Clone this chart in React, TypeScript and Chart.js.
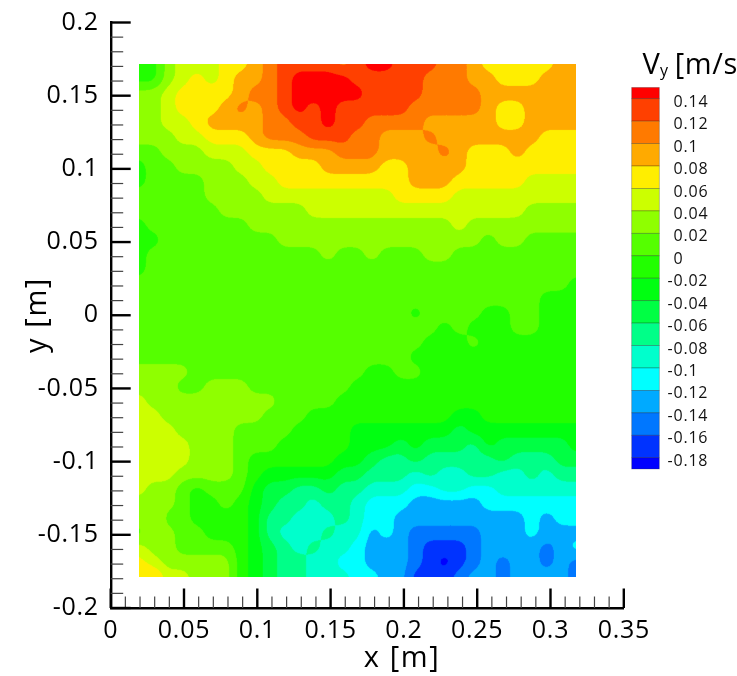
import React, { useEffect, useRef } from "react";
import { Chart, registerables } from "chart.js";

Chart.register(...registerables);

// Contour bands, top of the colour bar to the bottom
const bandColors = [
  "#ff0000", "#ff4000", "#ff7a00", "#ffaa00", "#ffee00", "#ccff00",
  "#8fff00", "#55ff00", "#22ff00", "#00ff11", "#00ff44", "#00ff88",
  "#00ffcc", "#00ffff", "#00aaff", "#0077ff", "#0033ff", "#0000ff",
];
const levelLabels = [
  "0.14", "0.12", "0.1", "0.08", "0.06", "0.04", "0.02", "0", "-0.02",
  "-0.04", "-0.06", "-0.08", "-0.1", "-0.12", "-0.14", "-0.16", "-0.18",
];

// Measurement window (m)
const xFirst = 0.0191;
const xLast = 0.3172;
const yFirst = 0.1716;
const yLast = -0.1786;

// Vy in hundredths of m/s, one row per 0.01 m from the top of the window
const row00 = [-1,-1,3,5,5,5,7,7,9,11,13,13,13,13,11,13,15,15,13,13,13,11,11,9,7,7,7,7,7,9,9];
const row01 = [-1,-1,3,5,7,5,7,9,9,11,13,15,15,15,15,13,13,13,13,13,11,11,11,9,9,7,7,7,9,9,9];
const row02 = [3,3,5,7,7,7,7,9,11,11,13,15,15,15,15,15,13,13,13,13,11,11,11,11,9,9,9,9,9,9,9];
const row03 = [3,3,5,7,7,7,9,11,9,11,13,15,13,15,13,13,13,13,13,11,11,11,11,11,9,7,7,9,9,9,9];
const row04 = [3,3,5,5,7,9,9,9,9,11,11,13,13,15,13,13,11,11,11,11,9,9,9,9,9,7,7,9,9,9,9];
const row05 = [3,3,3,5,5,7,7,7,9,11,11,11,13,13,13,11,11,9,9,9,11,9,9,9,9,9,9,9,7,7,7];
const row06 = [1,1,3,3,3,5,5,5,7,7,7,9,9,9,11,11,11,9,9,9,9,11,9,7,7,7,9,7,7,7,7];
const row07 = [-1,1,1,3,3,3,3,5,5,7,7,7,7,9,9,9,9,7,7,9,9,9,9,7,7,7,7,7,7,7,7];
const row08 = [-1,1,1,1,1,3,3,3,5,5,7,7,7,7,7,7,7,7,7,9,9,9,7,7,7,7,7,5,5,5,5];
const row09 = [1,1,1,1,1,3,3,3,3,5,5,5,5,5,5,5,5,5,7,7,7,7,5,5,5,5,5,5,5,5,5];
const row10 = [1,1,1,1,1,1,3,3,3,3,3,3,5,5,5,5,5,5,5,5,5,5,5,5,5,5,5,3,3,3,3];
const row11 = [-1,1,1,1,1,1,1,1,3,3,3,3,3,3,3,3,3,3,3,3,3,3,5,3,3,3,3,3,3,3,3];
const row12 = [-1,-1,1,1,1,1,1,1,1,1,3,3,3,3,3,3,3,3,3,3,3,3,3,3,1,3,3,1,1,1,1];
const row13 = [-1,1,1,1,1,1,1,1,1,1,1,1,1,3,1,1,3,1,1,1,3,3,1,1,1,1,1,1,1,1,1];
const row14 = [-1,1,1,1,1,1,1,1,1,1,1,1,1,1,1,1,1,1,1,1,1,1,1,1,1,1,1,1,1,1,1];
const row15 = [1,1,1,1,1,1,1,1,1,1,1,1,1,1,1,1,1,1,1,1,1,1,1,1,1,1,1,1,1,1,-1];
const row16 = [1,1,1,1,1,1,1,1,1,1,1,1,1,1,1,1,1,1,1,1,1,1,1,1,1,1,1,1,-1,-1,-1];
const row17 = [1,1,1,1,1,1,1,1,1,1,1,1,1,1,1,1,1,1,1,-1,1,1,1,1,-1,-1,1,1,-1,-1,-1];
const row18 = [1,1,1,1,1,1,1,1,1,1,1,1,1,1,1,1,1,1,1,1,1,-1,1,-1,-1,-1,1,1,-1,-1,-1];
const row19 = [1,1,1,1,1,1,1,1,1,1,1,1,1,1,1,1,1,1,1,1,-1,-1,-1,1,-1,-1,-1,-1,-1,-1,-1];
const row20 = [1,1,1,1,1,1,1,1,1,1,1,1,1,1,1,1,1,1,1,-1,-1,-1,-1,-1,-1,-1,-1,-1,-1,-1,-1];
const row21 = [3,3,3,3,1,1,1,1,1,1,1,1,1,1,1,1,-1,-1,1,1,-1,-1,-1,-1,-1,-1,-1,-1,-1,-1,-1];
const row22 = [3,3,3,1,1,3,3,3,1,1,1,1,1,1,1,-1,-1,-1,-1,-1,-1,-1,-1,-1,-1,-1,-1,-1,-1,-1,-1];
const row23 = [5,3,3,3,3,3,3,3,3,3,1,1,1,1,-1,-1,-1,-1,-1,-1,-1,-1,-1,-1,-1,-1,-1,-1,-1,-1,-1];
const row24 = [5,5,3,3,3,3,3,3,3,1,1,1,-1,-1,-1,-1,-1,-1,-1,-1,-1,-1,-3,-3,-1,-1,-1,-1,-1,-1,-1];
const row25 = [5,5,5,3,3,3,3,1,1,1,1,-1,-1,-1,-1,-3,-3,-3,-3,-3,-3,-3,-5,-3,-3,-3,-3,-3,-3,-3,-3];
const row26 = [5,5,5,5,3,3,3,1,1,1,-1,-1,-1,-1,-1,-3,-3,-3,-5,-3,-5,-5,-5,-7,-3,-5,-5,-5,-5,-5,-3];
const row27 = [5,5,5,5,3,3,3,1,-1,-1,-1,-1,-1,-1,-3,-3,-5,-7,-7,-5,-7,-7,-7,-7,-7,-5,-7,-7,-7,-5,-5];
const row28 = [5,5,5,3,3,3,3,1,-1,-3,-3,-3,-3,-3,-5,-5,-7,-7,-7,-9,-7,-9,-9,-7,-7,-9,-9,-7,-9,-7,-7];
const row29 = [5,3,3,1,-1,1,1,1,-3,-5,-5,-7,-7,-5,-7,-7,-9,-9,-9,-11,-11,-9,-9,-11,-11,-9,-9,-9,-9,-9,-9];
const row30 = [3,3,3,1,-1,-1,1,-1,-3,-5,-7,-7,-9,-7,-7,-9,-11,-11,-11,-13,-13,-13,-13,-13,-11,-11,-11,-11,-11,-11,-11];
const row31 = [3,5,1,1,-1,-1,-1,-1,-3,-7,-7,-9,-9,-9,-7,-9,-11,-11,-13,-13,-13,-13,-13,-13,-13,-13,-13,-11,-13,-11,-11];
const row32 = [1,3,3,1,1,-1,-1,-1,-3,-7,-9,-9,-9,-7,-9,-9,-13,-11,-13,-15,-15,-15,-15,-15,-13,-13,-13,-11,-13,-13,-13];
const row33 = [5,3,3,1,1,1,1,-1,-3,-5,-7,-9,-7,-9,-9,-11,-13,-13,-13,-15,-17,-17,-17,-15,-13,-13,-13,-13,-15,-13,-11];
const row34 = [7,5,3,3,3,3,3,-1,-3,-5,-7,-7,-9,-9,-11,-11,-13,-13,-13,-15,-17,-19,-17,-15,-13,-15,-13,-13,-15,-13,-15];
const row35 = [7,9,5,5,3,3,3,-1,-3,-5,-7,-7,-9,-9,-9,-11,-11,-13,-13,-17,-17,-17,-15,-13,-13,-15,-13,-13,-13,-13,-15];

const vyRows = [
  row00, row01, row02, row03, row04, row05, row06, row07, row08, row09, row10, row11,
  row12, row13, row14, row15, row16, row17, row18, row19, row20, row21, row22, row23,
  row24, row25, row26, row27, row28, row29, row30, row31, row32, row33, row34, row35,
];

const FONT = '"Open Sans", sans-serif';
const isMajor = (v: number) => Math.abs(v / 0.05 - Math.round(v / 0.05)) < 1e-6;
const fmt = (v: number) => (isMajor(v) ? String(parseFloat(v.toFixed(2))) : "");

function hexToRgb(h: string) {
  return [parseInt(h.slice(1, 3), 16), parseInt(h.slice(3, 5), 16), parseInt(h.slice(5, 7), 16)];
}
const bandRgb = bandColors.map(hexToRgb);

function splineWeights(t: number) {
  return [0.5 * (0.5 - t) * (0.5 - t), 0.75 - t * t, 0.5 * (0.5 + t) * (0.5 + t)];
}

// smooth sampling of the read grid, so that contour edges are round and not diamond-shaped
function sampleVy(u: number, v: number) {
  const nr = vyRows.length - 1;
  const nc = vyRows[0].length - 1;
  const fx = Math.min(Math.max(u, 0), 1) * nc;
  const fy = Math.min(Math.max(v, 0), 1) * nr;
  const c = Math.round(fx);
  const r = Math.round(fy);
  const wx = splineWeights(fx - c);
  const wy = splineWeights(fy - r);
  let sum = 0;
  for (let a = -1; a <= 1; a++) {
    const row = vyRows[Math.min(nr, Math.max(0, r + a))];
    for (let b = -1; b <= 1; b++) {
      sum += wy[a + 1] * wx[b + 1] * row[Math.min(nc, Math.max(0, c + b))];
    }
  }
  return sum;
}

const contourPlugin = {
  id: "contourField",
  beforeDraw(chart: any) {
    (chart.ctx as any).letterSpacing = "0.7px";
  },
  beforeDatasetsDraw(chart: any) {
    const { x, y } = chart.scales;
    const left = x.getPixelForValue(xFirst);
    const right = x.getPixelForValue(xLast);
    const top = y.getPixelForValue(yFirst);
    const bottom = y.getPixelForValue(yLast);
    const ss = 2;
    const w = Math.round((right - left) * ss);
    const h = Math.round((bottom - top) * ss);
    const off = document.createElement("canvas");
    off.width = w;
    off.height = h;
    const octx = off.getContext("2d")!;
    const img = octx.createImageData(w, h);
    for (let j = 0; j < h; j++) {
      for (let i = 0; i < w; i++) {
        const val = sampleVy((i + 0.5) / w, (j + 0.5) / h);
        const band = Math.max(0, Math.min(17, Math.ceil((14 - val) / 2)));
        const c = bandRgb[band];
        const p = (j * w + i) * 4;
        img.data[p] = c[0];
        img.data[p + 1] = c[1];
        img.data[p + 2] = c[2];
        img.data[p + 3] = 255;
      }
    }
    octx.putImageData(img, 0, 0);
    const ctx = chart.ctx;
    ctx.save();
    ctx.imageSmoothingEnabled = true;
    ctx.imageSmoothingQuality = "high";
    ctx.drawImage(off, left, top, right - left, bottom - top);
    ctx.restore();
  },
  afterDraw(chart: any) {
    const ctx = chart.ctx;
    const { x, y } = chart.scales;
    const area = chart.chartArea;
    ctx.save();
    // inward axis marks
    for (const t of x.ticks) {
      const px = x.getPixelForValue(t.value);
      const M = isMajor(t.value);
      ctx.beginPath();
      ctx.strokeStyle = M ? "#000" : "#444";
      ctx.lineWidth = M ? 2.4 : 1.2;
      ctx.moveTo(px, area.bottom);
      ctx.lineTo(px, area.bottom - (M ? 19.5 : 11.5));
      ctx.stroke();
    }
    for (const t of y.ticks) {
      const py = y.getPixelForValue(t.value);
      const M = isMajor(t.value);
      ctx.beginPath();
      ctx.strokeStyle = M ? "#000" : "#444";
      ctx.lineWidth = M ? 2.4 : 1.2;
      ctx.moveTo(area.left, py);
      ctx.lineTo(area.left + (M ? 20 : 12.5), py);
      ctx.stroke();
    }
    // axis titles
    ctx.fillStyle = "#000";
    ctx.textBaseline = "middle";
    ctx.textAlign = "center";
    ctx.font = `29px ${FONT}`;
    (ctx as any).letterSpacing = "1.6px";
    ctx.fillText("x [m]", 402, 659);
    ctx.save();
    ctx.translate(38, 315);
    ctx.rotate(-Math.PI / 2);
    ctx.fillText("y [m]", 0, 0);
    ctx.restore();
    ctx.textAlign = "left";
    // colour bar
    const barL = 631.7;
    const barW = 27.6;
    const levelTop = 98.7;
    const step = 22.44;
    const barTop = levelTop - step / 2;
    const yOf = (band: number) => (band === 0 ? barTop : levelTop + (band - 1) * step);
    bandColors.forEach((col, b) => {
      const y0 = yOf(b);
      const y1 = b === bandColors.length - 1 ? levelTop + (b - 1) * step + step / 2 : yOf(b + 1);
      ctx.fillStyle = col;
      ctx.fillRect(barL, y0, barW, y1 - y0);
      ctx.strokeStyle = "rgba(0,0,0,0.3)";
      ctx.lineWidth = 0.8;
      ctx.strokeRect(barL, y0, barW, y1 - y0);
    });
    ctx.fillStyle = "#111";
    ctx.textBaseline = "middle";
    ctx.font = `16px ${FONT}`;
    (ctx as any).letterSpacing = "0.8px";
    levelLabels.forEach((lab, k) => {
      const tx = lab.startsWith("-") ? 667.5 : 673.5;
      ctx.fillText(lab, tx, levelTop + k * step + 3.5);
    });
    (ctx as any).letterSpacing = "0.6px";
    ctx.fillStyle = "#000";
    ctx.textBaseline = "alphabetic";
    ctx.font = `29px ${FONT}`;
    ctx.fillText("V", 642.5, 74);
    const vw = ctx.measureText("V").width;
    ctx.font = `16px ${FONT}`;
    ctx.fillText("y", 642.5 + vw - 0.5, 76);
    const yw = ctx.measureText("y").width;
    ctx.font = `29px ${FONT}`;
    ctx.fillText(" [m/s", 642.5 + vw + yw - 2.5, 74);
    ctx.restore();
  },
};

export default function App() {
  const ref = useRef<HTMLCanvasElement>(null);
  useEffect(() => {
    const nodes: { x: number; y: number }[] = [];
    const nr = vyRows.length - 1;
    const nc = vyRows[0].length - 1;
    vyRows.forEach((row, r) =>
      row.forEach((_, c) =>
        nodes.push({
          x: xFirst + ((xLast - xFirst) * c) / nc,
          y: yFirst + ((yLast - yFirst) * r) / nr,
        })
      )
    );
    const tickFont = { family: FONT, size: 25 };
    const chart = new Chart(ref.current!, {
      type: "scatter",
      data: { datasets: [{ label: "Vy [m/s]", data: nodes, pointRadius: 0, pointHoverRadius: 0 }] },
      options: {
        animation: false,
        responsive: false,
        events: [],
        layout: { padding: { left: 0, top: 22.5, right: 113.2, bottom: 0 } },
        plugins: { legend: { display: false }, tooltip: { enabled: false } },
        scales: {
          x: {
            type: "linear",
            min: 0,
            max: 0.35,
            afterFit: (s: any) => {
              s.height = 68;
              s.paddingLeft = 0;
              s.paddingRight = 0;
            },
            grid: { display: false, drawTicks: false },
            border: { display: true, color: "#000", width: 2.4 },
            ticks: {
              stepSize: 0.01,
              autoSkip: false,
              maxRotation: 0,
              padding: 8,
              color: "#000",
              font: tickFont,
              callback: (v: any) => fmt(Number(v)),
            },
          },
          y: {
            type: "linear",
            min: -0.2,
            max: 0.2,
            afterFit: (s: any) => {
              s.width = 110.7;
              s.paddingTop = 0;
              s.paddingBottom = 0;
            },
            grid: { display: false, drawTicks: false },
            border: { display: true, color: "#000", width: 2.4 },
            ticks: {
              stepSize: 0.01,
              autoSkip: false,
              padding: 12,
              color: "#000",
              font: tickFont,
              callback: (v: any) => fmt(Number(v)),
            },
          },
        },
      },
      plugins: [contourPlugin],
    } as any);
    return () => chart.destroy();
  }, []);
  return (
    <canvas
      ref={ref}
      width={737}
      height={676}
      style={{ position: "absolute", left: 0, top: 0, display: "block", width: 737, height: 676 }}
    />
  );
}
